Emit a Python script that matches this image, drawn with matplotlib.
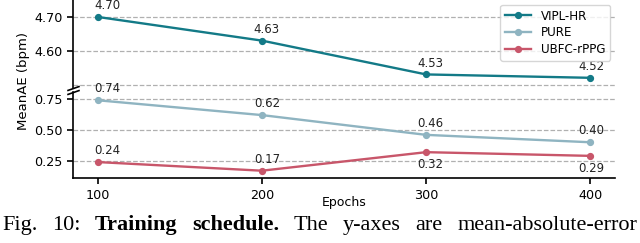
import numpy as np
import matplotlib
matplotlib.use('Agg')
import matplotlib.pyplot as plt

# data
epochs = [100, 200, 300, 400]
vipl = [4.70, 4.63, 4.53, 4.52]
pure = [0.74, 0.62, 0.46, 0.40]
ubfc = [0.24, 0.17, 0.32, 0.29]
labels_below = {'UBFC-rPPG': [False, False, True, True]}

c_vipl = '#137a87'
c_pure = '#8fb4c1'
c_ubfc = '#c8566a'

plt.rcParams['font.family'] = ['DejaVu Sans']
plt.rcParams['axes.linewidth'] = 1.2

fig = plt.figure(figsize=(6.4, 2.43), dpi=100)
ax_top = fig.add_axes([0.114, 0.638, 0.847, 0.362])
ax_bot = fig.add_axes([0.114, 0.267, 0.847, 0.354])

dx_px = [10, 5, 4, 1]  # label nudges as in the original

def draw(ax, y, color, name, below=None):
    ax.plot(epochs, y, color=color, lw=1.7, marker='o', ms=4.2, label=name, zorder=3)
    for i, (x, v) in enumerate(zip(epochs, y)):
        b = below[i] if below else False
        ax.annotate(f'{v:.2f}', (x, v), xytext=(dx_px[i] * 0.72, -4.5 if b else 3.5),
                    textcoords='offset points', ha='center',
                    va='top' if b else 'bottom', fontsize=8.5, color='#222222')

draw(ax_top, vipl, c_vipl, 'VIPL-HR')
draw(ax_bot, pure, c_pure, 'PURE')
draw(ax_bot, ubfc, c_ubfc, 'UBFC-rPPG', labels_below['UBFC-rPPG'])

for ax in (ax_top, ax_bot):
    ax.set_xlim(85, 415)
    ax.spines['top'].set_visible(False)
    ax.spines['right'].set_visible(False)
    ax.tick_params(labelsize=9.2, length=4, width=1.2)
    ax.grid(axis='y', ls='--', color='#b0b0b0', lw=0.9)
    ax.set_axisbelow(True)

ax_top.set_ylim(4.49, 4.75)
ax_top.set_yticks([4.6, 4.7])
ax_top.set_yticklabels(['4.60', '4.70'])
ax_top.axhline(4.5, ls='--', color='#b0b0b0', lw=0.9, zorder=0)
ax_top.spines['bottom'].set_visible(False)
ax_top.set_xticks([])

ax_bot.set_ylim(0.11, 0.806)
ax_bot.set_yticks([0.25, 0.5, 0.75])
ax_bot.set_yticklabels(['0.25', '0.50', '0.75'])
ax_bot.set_xticks(epochs)
ax_bot.set_xticklabels([str(e) for e in epochs])
ax_bot.set_xlabel('Epochs', fontsize=9, labelpad=-4)

# break marks
kw = dict(marker=[(-1, -0.35), (1, 0.35)], markersize=9, linestyle='none',
          color='k', mec='k', mew=1.2, clip_on=False)
ax_top.plot([0], [0], transform=ax_top.transAxes, **kw)
ax_bot.plot([0], [1], transform=ax_bot.transAxes, **kw)

# legend with all three series
h1, l1 = ax_top.get_legend_handles_labels()
h2, l2 = ax_bot.get_legend_handles_labels()
ax_top.legend(h1 + h2, l1 + l2, loc='upper right', fontsize=8.6, frameon=True,
              edgecolor='#cccccc', fancybox=True, borderaxespad=0.4,
              handlelength=2.2, labelspacing=0.3, borderpad=0.4)

fig.text(0.036, 0.665, 'MeanAE (bpm)', rotation=90, ha='center', va='center', fontsize=9.5)

# justified caption
words = [('Fig.', False), ('10:', False), ('Training', True), ('schedule.', True),
         ('The', False), ('y-axes', False), ('are', False), ('mean-absolute-error', False)]
fig.canvas.draw()
r = fig.canvas.get_renderer()
texts = []
for w, b in words:
    t = fig.text(0, 13 / 243, w, fontsize=16, family='Liberation Serif',
                 fontweight='bold' if b else 'normal', va='baseline', ha='left')
    texts.append(t)
widths = [t.get_window_extent(r).width for t in texts]
x0, x1 = 2, 637
gap = (x1 - x0 - sum(widths)) / (len(words) - 1)
x = x0
for t, w in zip(texts, widths):
    t.set_x(x / 640)
    x += w + gap

fig.savefig('out.png', dpi=100)
